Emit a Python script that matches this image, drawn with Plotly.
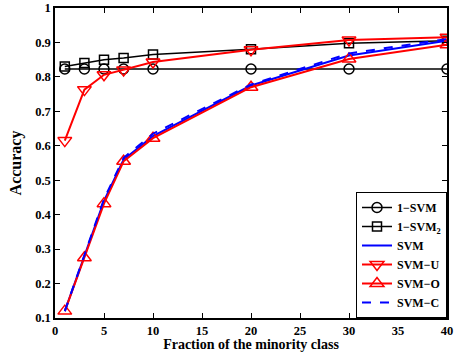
import plotly.graph_objects as go

x_vals = [1, 3, 5, 7, 10, 20, 30, 40]
one_svm = [0.823, 0.823, 0.823, 0.823, 0.823, 0.823, 0.823, 0.823]
one_svm2 = [0.830, 0.840, 0.850, 0.855, 0.865, 0.880, 0.898, 0.905]
svm = [0.120, 0.280, 0.440, 0.560, 0.628, 0.775, 0.862, 0.905]
svm_u = [0.615, 0.763, 0.806, 0.820, 0.843, 0.879, 0.907, 0.915]
svm_o = [0.120, 0.275, 0.432, 0.555, 0.622, 0.770, 0.852, 0.893]
svm_c = [0.120, 0.285, 0.445, 0.565, 0.635, 0.778, 0.868, 0.910]

x_ticks = [0, 5, 10, 15, 20, 25, 30, 35, 40]
y_ticks = [0.1, 0.2, 0.3, 0.4, 0.5, 0.6, 0.7, 0.8, 0.9, 1.0]
y_tick_text = ["0.1", "0.2", "0.3", "0.4", "0.5", "0.6", "0.7", "0.8", "0.9", "1"]

font_family = "Liberation Serif"

fig = go.Figure()
fig.add_trace(go.Scatter(x=x_vals, y=one_svm, name="<b>1−SVM</b>", mode="lines+markers",
                         line=dict(color="black", width=1.5),
                         marker=dict(symbol="circle-open", size=10, color="black", line=dict(width=1.5))))
fig.add_trace(go.Scatter(x=x_vals, y=one_svm2, name="<b>1−SVM<sub>2</sub></b>", mode="lines+markers",
                         line=dict(color="black", width=1.5),
                         marker=dict(symbol="square-open", size=9, color="black", line=dict(width=1.5))))
fig.add_trace(go.Scatter(x=x_vals, y=svm, name="<b>SVM</b>", mode="lines",
                         line=dict(color="blue", width=2)))
fig.add_trace(go.Scatter(x=x_vals, y=svm_u, name="<b>SVM−U</b>", mode="lines+markers",
                         line=dict(color="red", width=2),
                         marker=dict(symbol="triangle-down-open", size=12, color="red", line=dict(width=1.5))))
fig.add_trace(go.Scatter(x=x_vals, y=svm_o, name="<b>SVM−O</b>", mode="lines+markers",
                         line=dict(color="red", width=2),
                         marker=dict(symbol="triangle-up-open", size=12, color="red", line=dict(width=1.5))))
fig.add_trace(go.Scatter(x=x_vals, y=svm_c, name="<b>SVM−C</b>", mode="lines",
                         line=dict(color="blue", width=2, dash="dash")))

axis_common = dict(showline=True, linecolor="black", linewidth=1.5, mirror="ticks",
                   ticks="inside", ticklen=5, tickcolor="black", showgrid=False, zeroline=False,
                   automargin=False,
                   tickfont=dict(family=font_family, size=12.5, color="black"))

fig.update_layout(
    width=454, height=352,
    margin=dict(l=55, r=7, t=8, b=34, autoexpand=False),
    paper_bgcolor="white", plot_bgcolor="white",
    font=dict(family=font_family, color="black", size=12),
    xaxis=dict(range=[0, 40], tickvals=x_ticks, ticktext=[f"<b>{v}</b>" for v in x_ticks],
               title=dict(text="<b>Fraction of the minority class</b>", standoff=0,
                          font=dict(family=font_family, size=14)), **axis_common),
    yaxis=dict(range=[0.1, 1.0], tickvals=y_ticks, ticktext=[f"<b>{t}</b>" for t in y_tick_text],
               title=dict(text="<b>Accuracy</b>", standoff=10,
                          font=dict(family=font_family, size=16)), **axis_common),
    legend=dict(x=1, y=0, xanchor="right", yanchor="bottom", bgcolor="white",
                bordercolor="black", borderwidth=1, tracegroupgap=0,
                font=dict(family=font_family, size=12), itemwidth=30),
    showlegend=True,
)

fig.write_html("out.html", config={"displayModeBar": False},
               post_script="document.body.style.margin='0';document.body.style.overflow='hidden';")
